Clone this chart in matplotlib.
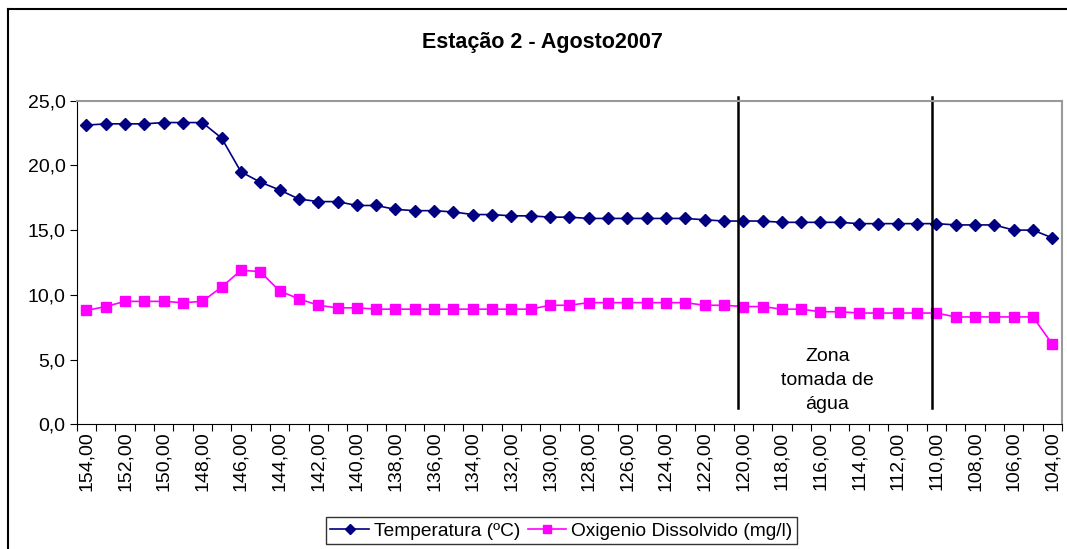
import matplotlib
matplotlib.use("Agg")
import matplotlib.pyplot as plt
from matplotlib.lines import Line2D

plt.rcParams['font.family'] = ['Liberation Sans', 'DejaVu Sans']

# distance along the river (km), one category per point
distancia = [154, 153, 152, 151, 150, 149, 148, 147, 146, 145,
             144, 143, 142, 141, 140, 139, 138, 137, 136, 135,
             134, 133, 132, 131, 130, 129, 128, 127, 126, 125,
             124, 123, 122, 121, 120, 119, 118, 117, 116, 115,
             114, 113, 112, 111, 110, 109, 108, 107, 106, 105, 104]

temperatura = [23.1, 23.2, 23.2, 23.2, 23.3, 23.3, 23.3, 22.1, 19.5, 18.7,
               18.1, 17.4, 17.2, 17.2, 16.9, 16.9, 16.6, 16.5, 16.5, 16.4,
               16.2, 16.2, 16.1, 16.1, 16.0, 16.0, 15.9, 15.9, 15.9, 15.9,
               15.9, 15.9, 15.8, 15.7, 15.7, 15.7, 15.6, 15.6, 15.6, 15.6,
               15.5, 15.5, 15.5, 15.5, 15.5, 15.4, 15.4, 15.4, 15.0, 15.0, 14.4]

oxigenio = [8.8, 9.1, 9.5, 9.5, 9.5, 9.4, 9.5, 10.6, 11.9, 11.8,
            10.3, 9.7, 9.2, 9.0, 9.0, 8.9, 8.9, 8.9, 8.9, 8.9,
            8.9, 8.9, 8.9, 8.9, 9.2, 9.2, 9.4, 9.4, 9.4, 9.4,
            9.4, 9.4, 9.2, 9.2, 9.1, 9.1, 8.9, 8.9, 8.7, 8.7,
            8.6, 8.6, 8.6, 8.6, 8.6, 8.3, 8.3, 8.3, 8.3, 8.3, 6.2]

# limits of the water intake zone (in category positions)
zona_limites = [33.75, 43.75]

x = list(range(len(distancia)))

fig = plt.figure(figsize=(10.67, 5.49), dpi=100)
ax = fig.add_axes([0.0719, 0.2268, 0.9234, 0.5901])

ax.plot(x, temperatura, color='#000080', marker='D', markersize=6.5, lw=1.2,
        label='Temperatura (ºC)')
ax.plot(x, oxigenio, color='#FF00FF', marker='s', markersize=6.5, lw=1.2,
        label='Oxigenio Dissolvido (mg/l)')

for xl in zona_limites:
    ax.plot([xl, xl], [1.25, 25.3], color='black', lw=1.8, clip_on=False)

ax.text(sum(zona_limites) / 2 - 0.4, 3.4, 'Zona\ntomada de\nágua', ha='center',
        va='center', fontsize=14, linespacing=1.55)

ax.set_xlim(-0.5, len(x) - 0.5)
ax.set_ylim(0, 25)
ax.set_yticks([0, 5, 10, 15, 20, 25])
ax.set_yticklabels([f'{v:.1f}'.replace('.', ',') for v in [0, 5, 10, 15, 20, 25]])

ax.set_xticks([i - 0.5 for i in range(len(x) + 1)])
ax.set_xticklabels([])
ax.set_xticks(x[::2], minor=True)
ax.set_xticklabels([f'{d:.2f}'.replace('.', ',') for d in distancia[::2]],
                   minor=True, rotation=90)
ax.tick_params(axis='x', which='minor', length=0, labelsize=14, pad=5)
ax.tick_params(axis='x', which='major', length=5, direction='out')
ax.tick_params(axis='y', length=5, direction='out', labelsize=14, pad=3)

for s in ['top', 'right']:
    ax.spines[s].set_color('#999999')
    ax.spines[s].set_linewidth(1.5)
for s in ['left', 'bottom']:
    ax.spines[s].set_color('black')

fig.text(0.508, 0.923, 'Estação 2 - Agosto2007', ha='center', va='center',
         fontsize=15.5, fontweight='bold')

leg = fig.legend(loc='center', bbox_to_anchor=(0.526, 0.033), ncol=2,
                 fontsize=13.8, frameon=True, fancybox=False, handlelength=2.0,
                 columnspacing=0.4, handletextpad=0.25, borderpad=0.25,
                 borderaxespad=0, markerscale=0.8)
leg.get_frame().set_edgecolor('black')
leg.get_frame().set_linewidth(1.0)

# outer chart border (top and left visible)
bx = 8 / 1067
by = 1 - 9 / 549
fig.add_artist(Line2D([bx, 1], [by, by], color='black', lw=1.5, transform=fig.transFigure))
fig.add_artist(Line2D([bx, bx], [0, by], color='black', lw=1.5, transform=fig.transFigure))

fig.savefig('out.png', dpi=100)
